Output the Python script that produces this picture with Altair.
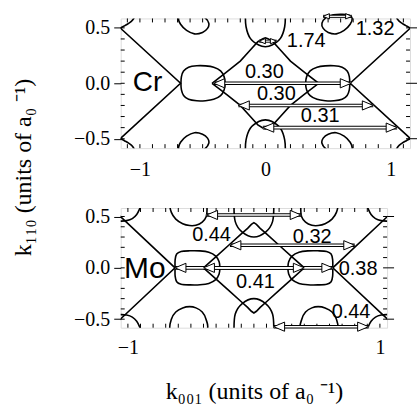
import altair as alt
import pandas as pd

# ---------------- Cr panel data ----------------
cr_x_domain = [-1.153, 1.153]
cr_y_domain = [-0.585, 0.585]
cr_x_ticks = [-1, 0, 1]
cr_y_ticks = [-0.5, 0.0, 0.5]
cr_minor_x = [-1.1, -1.0, -0.9, -0.8, -0.7, -0.6, -0.5, -0.4, -0.3, -0.2, -0.1, 0.0,
              0.1, 0.2, 0.3, 0.4, 0.5, 0.6, 0.7, 0.8, 0.9, 1.0, 1.1]
minor_y = [-0.5, -0.4, -0.3, -0.2, -0.1, 0.0, 0.1, 0.2, 0.3, 0.4, 0.5]

cr_oval_center = 0.497
cr_oval_dx = [-0.176, -0.172, -0.155, -0.115, -0.05, 0.02, 0.085, 0.14, 0.168, 0.176,
              0.168, 0.14, 0.085, 0.02, -0.05, -0.115, -0.155, -0.172]
cr_oval_dy = [0.0, 0.06, 0.11, 0.145, 0.158, 0.157, 0.145, 0.112, 0.06, 0.0,
              -0.06, -0.112, -0.145, -0.157, -0.158, -0.145, -0.11, -0.06]
cr_pocket_x = [0.451, 0.485, 0.541, 0.613, 0.668, 0.692, 0.676, 0.628, 0.565, 0.501, 0.461]
cr_pocket_y = [0.541, 0.595, 0.617, 0.622, 0.613, 0.586, 0.532, 0.477, 0.446, 0.459, 0.495]
cr_bump_x = [-0.159, -0.154, -0.12, -0.053, 0.0, 0.053, 0.12, 0.154, 0.159]
cr_bump_y = [0.63, 0.51, 0.405, 0.345, 0.33, 0.345, 0.405, 0.51, 0.63]
cr_corner_x = [1.03, 1.036, 1.058, 1.09, 1.12, 1.16, 1.2]
cr_corner_y = [0.66, 0.62, 0.57, 0.54, 0.52, 0.497, 0.49]
cr_xline_x = [1.2, 0.676, 1.2]
cr_xline_y = [0.544, 0.0, -0.544]
cr_diamond_x = [-0.425, -0.31, -0.20, -0.12, -0.06, -0.02, 0.0, 0.02, 0.06, 0.12, 0.20, 0.31, 0.425,
                0.31, 0.20, 0.12, 0.06, 0.02, 0.0, -0.02, -0.06, -0.12, -0.20, -0.31, -0.425]
cr_diamond_y = [0.0, 0.10, 0.20, 0.30, 0.375, 0.403, 0.41, 0.403, 0.375, 0.30, 0.20, 0.10, 0.0,
                -0.10, -0.20, -0.30, -0.375, -0.403, -0.41, -0.403, -0.375, -0.30, -0.20, -0.10, 0.0]
cr_arrow_x1 = [-0.411, -0.215, -0.02]
cr_arrow_x2 = [0.684, 0.86, 1.05]
cr_arrow_y = [0.0, -0.20, -0.40]
cr_small_x1 = [-0.05, 0.46]
cr_small_x2 = [0.09, 0.69]
cr_small_y = [0.38, 0.604]
cr_label_text = ["0.30", "0.30", "0.31", "1.74", "1.32"]
cr_label_x = [-0.008, 0.0875, 0.4375, 0.326, 0.875]
cr_label_y = [0.099, -0.099, -0.297, 0.378, 0.486]
cr_name = ["Cr"]
cr_name_x = [-0.939]
cr_name_y = [0.0]

# ---------------- Mo panel data ----------------
mo_x_domain = [-1.057, 1.057]
mo_y_domain = [-0.583, 0.583]
mo_x_ticks = [-1, 0, 1]
mo_y_ticks = [-0.5, 0.0, 0.5]
mo_minor_x = [-1.0, -0.9, -0.8, -0.7, -0.6, -0.5, -0.4, -0.3, -0.2, -0.1, 0.0,
              0.1, 0.2, 0.3, 0.4, 0.5, 0.6, 0.7, 0.8, 0.9, 1.0]

mo_oval_center = 0.448
mo_oval_dx = [-0.178, -0.177, -0.165, -0.13, -0.06, 0.02, 0.09, 0.145, 0.172, 0.178,
              0.172, 0.145, 0.09, 0.02, -0.06, -0.13, -0.165, -0.177]
mo_oval_dy = [0.0, 0.08, 0.135, 0.16, 0.166, 0.165, 0.152, 0.115, 0.06, 0.0,
              -0.06, -0.115, -0.152, -0.165, -0.166, -0.16, -0.135, -0.08]
mo_pocket_top_x = [0.372, 0.378, 0.41, 0.46, 0.51, 0.565, 0.62, 0.655, 0.665, 0.63, 0.52, 0.42, 0.38]
mo_pocket_top_y = [0.58, 0.50, 0.445, 0.415, 0.412, 0.43, 0.475, 0.54, 0.62, 0.68, 0.70, 0.67, 0.63]
mo_pocket_bot_x = [0.372, 0.38, 0.41, 0.46, 0.51, 0.565, 0.62, 0.655, 0.665, 0.60, 0.48]
mo_pocket_bot_y = [-0.60, -0.50, -0.43, -0.39, -0.378, -0.39, -0.43, -0.50, -0.60, -0.68, -0.68]
mo_bump_x = [-0.158, -0.148, -0.095, 0.0, 0.095, 0.148, 0.158]
mo_bump_y = [0.61, 0.45, 0.35, 0.30, 0.35, 0.45, 0.61]
mo_corner_x = [0.89, 0.905, 0.93, 0.965, 1.01, 1.06, 1.1]
mo_corner_y = [0.63, 0.58, 0.52, 0.48, 0.46, 0.455, 0.455]
mo_xline_x = [1.1, 0.626, 1.1]
mo_xline_y = [0.546, 0.0, -0.546]
mo_diamond_x = [-0.40, -0.30, -0.20, -0.10, -0.05, -0.02, 0.0, 0.02, 0.05, 0.10, 0.20, 0.30, 0.40,
                0.30, 0.20, 0.10, 0.05, 0.02, 0.0, -0.02, -0.05, -0.10, -0.20, -0.30, -0.40]
mo_diamond_y = [0.0, 0.11, 0.22, 0.33, 0.385, 0.423, 0.44, 0.423, 0.385, 0.33, 0.22, 0.11, 0.0,
                -0.11, -0.22, -0.33, -0.385, -0.423, -0.44, -0.423, -0.385, -0.33, -0.22, -0.11, 0.0]
mo_arrow_x1 = [-0.375, -0.19, -0.626, -0.40, 0.157]
mo_arrow_x2 = [0.375, 0.80, 0.626, 0.40, 0.91]
mo_arrow_y = [0.515, 0.22, 0.0, 0.0, -0.573]
mo_label_text = ["0.44", "0.32", "0.38", "0.41", "0.44"]
mo_label_x = [-0.336, 0.463, 0.827, 0.012, 0.771]
mo_label_y = [0.32, 0.301, -0.01, -0.136, -0.427]
mo_name = ["Mo"]
mo_name_x = [-0.866]
mo_name_y = [-0.01]

SERIF = "Liberation Serif"
SANS = "Liberation Sans"
HEAD_R = "M0,0L-1,-0.42L-1,0.42Z"
HEAD_L = "M0,0L1,-0.42L1,0.42Z"


def make_axes(xt, yt, xtitle, ytitle, lab_pad_x):
    xa = dict(values=xt, format="d", ticks=False, labelPadding=lab_pad_x, labelFont=SERIF,
              labelFontSize=20, labelColor="black", domain=False, grid=False, labelFlush=False)
    ya = dict(values=yt, format=".1f", tickSize=7, tickColor="black", tickWidth=1, labelPadding=4,
              labelFont=SERIF, labelFontSize=20, labelColor="black", domain=False, grid=False)
    if xtitle:
        xa.update(title=xtitle, titleFont=SERIF, titleFontSize=24, titleFontWeight="normal",
                  titleColor="black", titleY=64, titleBaseline="middle", titleAlign="center")
    else:
        xa.update(title=None)
    if ytitle:
        ya.update(title=ytitle, titleFont=SERIF, titleFontSize=24, titleFontWeight="normal",
                  titleColor="black", titleX=-97, titleY=149, titleAngle=270,
                  titleBaseline="middle", titleAlign="center")
    else:
        ya.update(title=None)
    return alt.Axis(**xa), alt.Axis(**ya)


class Panel:
    def __init__(self, xdom, ydom, W, H, xt, yt, xtitle, ytitle, lab_pad_x):
        self.xs = alt.Scale(domain=xdom, nice=False, zero=False)
        self.ys = alt.Scale(domain=ydom, nice=False, zero=False)
        self.W, self.H = W, H
        self.xa, self.ya = make_axes(xt, yt, xtitle, ytitle, lab_pad_x)

    def X(self, f):
        return alt.X(f, scale=self.xs, axis=self.xa)

    def Y(self, f):
        return alt.Y(f, scale=self.ys, axis=self.ya)

    def lines(self, rows, interp, clip=True):
        return alt.Chart(pd.DataFrame(rows)).mark_line(
            interpolate=interp, color="black", strokeWidth=1.6, clip=clip
        ).encode(x=self.X("x:Q"), y=self.Y("y:Q"), detail="cid:N", order="ord:Q")

    def arrows(self, x1, x2, y, size, outer, inner):
        base = alt.Chart(pd.DataFrame({"x1": x1, "x2": x2, "y": y}))
        X1, X2, Y = self.X("x1:Q"), self.X("x2:Q"), self.Y("y:Q")
        return [
            base.mark_rule(color="black", strokeWidth=outer).encode(x=X1, x2="x2:Q", y=Y),
            base.mark_rule(color="white", strokeWidth=inner).encode(x=X1, x2="x2:Q", y=Y),
            base.mark_point(shape=HEAD_L, size=size, filled=True, fill="white", stroke="black",
                            strokeWidth=1, opacity=1).encode(x=X1, y=Y),
            base.mark_point(shape=HEAD_R, size=size, filled=True, fill="white", stroke="black",
                            strokeWidth=1, opacity=1).encode(x=X2, y=Y),
        ]

    def ticks(self, mx, my, major):
        W, H = self.W, self.H
        dfx = pd.DataFrame({"t": mx})
        dfy = pd.DataFrame({"t": my})
        dfm = pd.DataFrame({"t": major})
        r = dict(color="black", strokeWidth=1)
        return [
            alt.Chart(dfx).mark_rule(**r).encode(x=self.X("t:Q"), y=alt.value(0), y2=alt.value(4)),
            alt.Chart(dfx).mark_rule(**r).encode(x=self.X("t:Q"), y=alt.value(H), y2=alt.value(H - 4)),
            alt.Chart(dfy).mark_rule(**r).encode(y=self.Y("t:Q"), x=alt.value(0), x2=alt.value(4)),
            alt.Chart(dfy).mark_rule(**r).encode(y=self.Y("t:Q"), x=alt.value(W), x2=alt.value(W - 4)),
            alt.Chart(dfm).mark_rule(**r).encode(y=self.Y("t:Q"), x=alt.value(W), x2=alt.value(W + 7)),
        ]

    def texts(self, tx, lx, ly, size):
        return alt.Chart(pd.DataFrame({"t": tx, "x": lx, "y": ly})).mark_text(
            font=SANS, fontSize=size, baseline="middle", align="center", color="black"
        ).encode(x=self.X("x:Q"), y=self.Y("y:Q"), text="t:N")


def add(rows, cid, xs, ys, sx=1, sy=1, ox=0.0):
    for i, (a, b) in enumerate(zip(xs, ys)):
        rows.append({"cid": cid, "ord": i, "x": ox + sx * a, "y": sy * b})


# ---------- Cr panel ----------
P1 = Panel(cr_x_domain, cr_y_domain, 290, 130, cr_x_ticks, cr_y_ticks, None,
           "k₁₁₀ (units of a₀ ⁻¹)", 11)
closed1, open_top1, smooth1, lin1 = [], [], [], []
add(closed1, "oL", cr_oval_dx, cr_oval_dy, 1, 1, -cr_oval_center)
add(closed1, "oR", cr_oval_dx, cr_oval_dy, -1, 1, cr_oval_center)
add(closed1, "pTL", cr_pocket_x, cr_pocket_y, -1, 1)
add(closed1, "pBL", cr_pocket_x, cr_pocket_y, -1, -1)
add(closed1, "pBR", cr_pocket_x, cr_pocket_y, 1, -1)
add(open_top1, "pTR", cr_pocket_x, cr_pocket_y, 1, 1)
add(smooth1, "bT", cr_bump_x, cr_bump_y, 1, 1)
add(smooth1, "bB", cr_bump_x, cr_bump_y, 1, -1)
for sx in (1, -1):
    for sy in (1, -1):
        add(smooth1, f"c{sx}{sy}", cr_corner_x, cr_corner_y, sx, sy)
add(lin1, "xR", cr_xline_x, cr_xline_y, 1, 1)
add(lin1, "xL", cr_xline_x, cr_xline_y, -1, 1)
add(lin1, "dia", cr_diamond_x, cr_diamond_y)

cr_layers = [
    P1.lines(closed1, "cardinal-closed"),
    P1.lines(open_top1, "cardinal-closed", clip=False),
    P1.lines(smooth1, "cardinal"),
    P1.lines(lin1, "linear"),
] + P1.ticks(cr_minor_x, minor_y, cr_y_ticks) \
  + P1.arrows(cr_arrow_x1, cr_arrow_x2, cr_arrow_y, 480, 3.6, 1.6) \
  + P1.arrows(cr_small_x1, cr_small_x2, cr_small_y, 160, 3.0, 1.2) \
  + [P1.texts(cr_label_text, cr_label_x, cr_label_y, 20),
     P1.texts(cr_name, cr_name_x, cr_name_y, 28)]
cr_chart = alt.layer(*cr_layers).properties(width=P1.W, height=P1.H)

# ---------- Mo panel ----------
P2 = Panel(mo_x_domain, mo_y_domain, 267, 120, mo_x_ticks, mo_y_ticks,
           "k₀₀₁ (units of a₀ ⁻¹)", None, 10)
closed2, smooth2, lin2 = [], [], []
add(closed2, "oL", mo_oval_dx, mo_oval_dy, 1, 1, -mo_oval_center)
add(closed2, "oR", mo_oval_dx, mo_oval_dy, -1, 1, mo_oval_center)
add(closed2, "pTR", mo_pocket_top_x, mo_pocket_top_y, 1, 1)
add(closed2, "pTL", mo_pocket_top_x, mo_pocket_top_y, -1, 1)
add(closed2, "pBR", mo_pocket_bot_x, mo_pocket_bot_y, 1, 1)
add(closed2, "pBL", mo_pocket_bot_x, mo_pocket_bot_y, -1, 1)
add(smooth2, "bT", mo_bump_x, mo_bump_y, 1, 1)
add(smooth2, "bB", mo_bump_x, mo_bump_y, 1, -1)
for sx in (1, -1):
    for sy in (1, -1):
        add(smooth2, f"c{sx}{sy}", mo_corner_x, mo_corner_y, sx, sy)
add(lin2, "xR", mo_xline_x, mo_xline_y, 1, 1)
add(lin2, "xL", mo_xline_x, mo_xline_y, -1, 1)
add(lin2, "dia", mo_diamond_x, mo_diamond_y)

mo_layers = [
    P2.lines(closed2, "cardinal-closed"),
    P2.lines(smooth2, "cardinal"),
    P2.lines(lin2, "linear"),
] + P2.ticks(mo_minor_x, minor_y, mo_y_ticks) \
  + P2.arrows(mo_arrow_x1, mo_arrow_x2, mo_arrow_y, 480, 3.6, 1.6) \
  + [P2.texts(mo_label_text, mo_label_x, mo_label_y, 20),
     P2.texts(mo_name, mo_name_x, mo_name_y, 30)]
mo_chart = alt.layer(*mo_layers).properties(width=P2.W, height=P2.H)

chart = alt.vconcat(cr_chart, mo_chart, spacing=60, bounds="flush").properties(
    padding={"left": 11, "top": 10, "right": 2, "bottom": 2}
).configure_view(stroke="black", strokeWidth=1.2).configure(background="white")

chart.save("out.html", embed_options={"renderer": "svg", "actions": False})
